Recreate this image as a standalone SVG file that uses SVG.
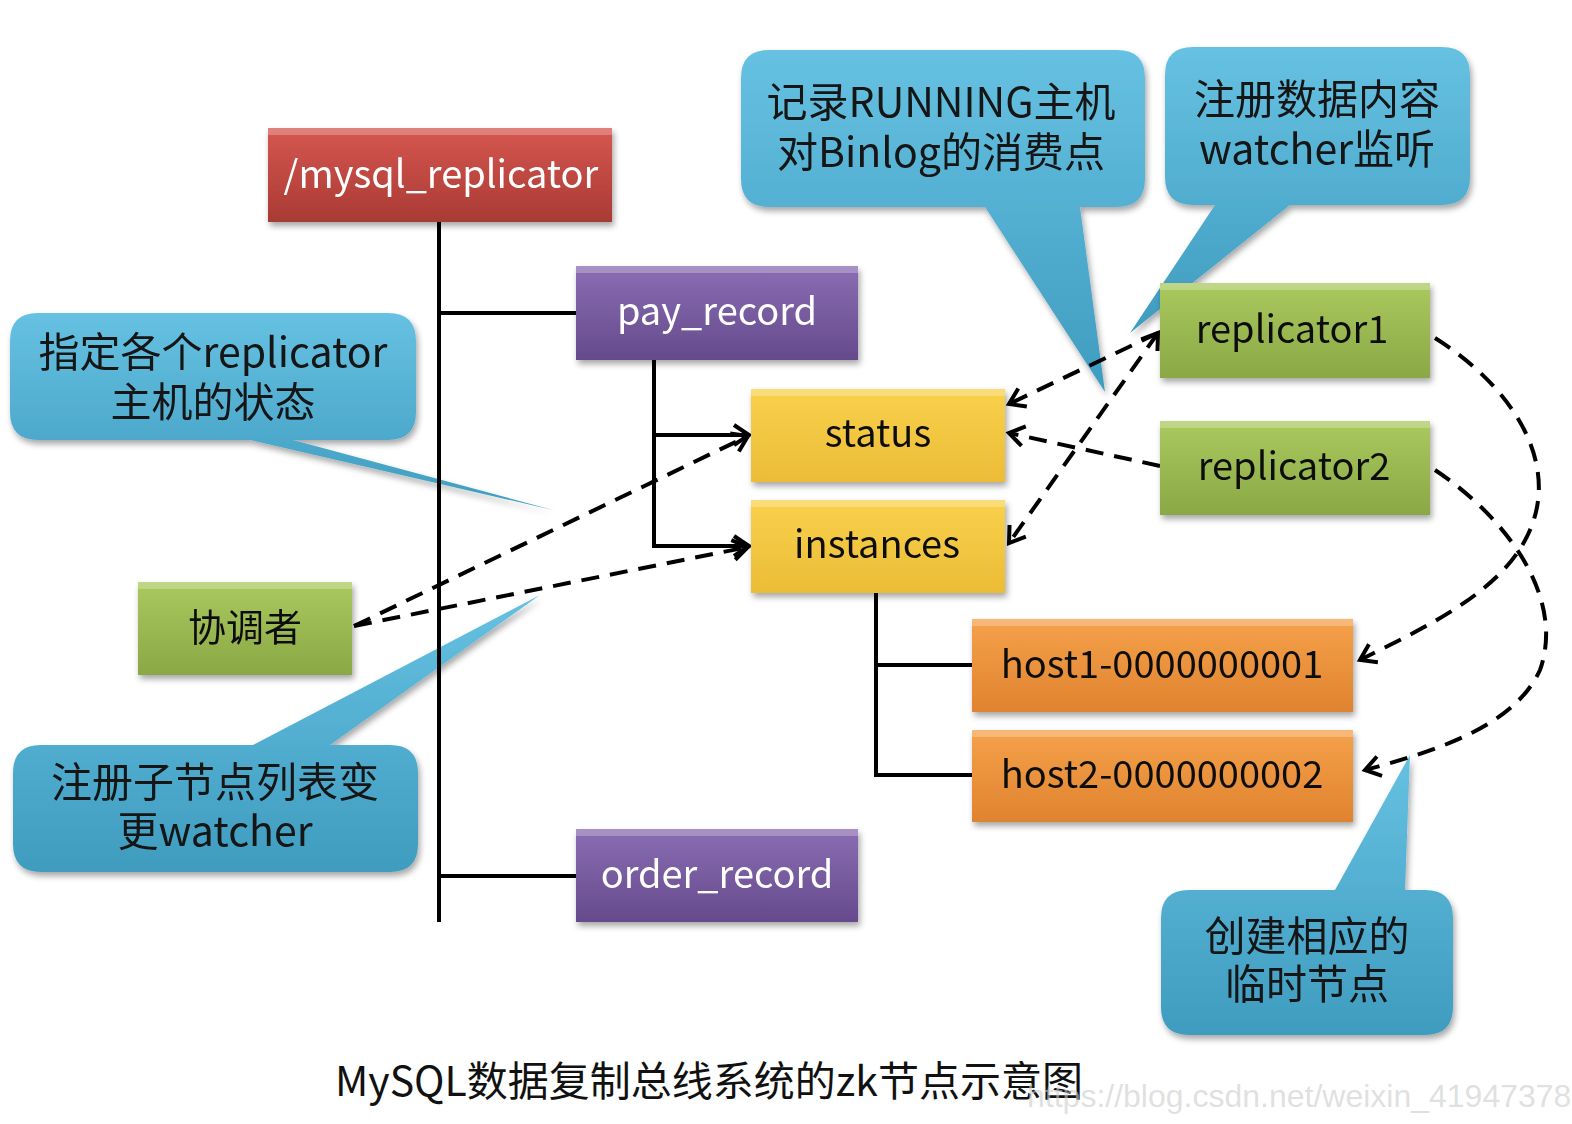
<svg xmlns="http://www.w3.org/2000/svg" width="1572" height="1124" viewBox="0 0 1572 1124">
<defs>
<style>
.lbl{font-family:"Noto Sans CJK SC","Open Sans",sans-serif;font-size:38px;text-anchor:middle}
.w{fill:#ffffff}
.k{fill:#111111}
.cal{font-family:"Noto Sans CJK SC","Open Sans",sans-serif;font-size:41px;text-anchor:middle;fill:#141414}
.solid{fill:none;stroke:#000;stroke-width:4}
.dash{fill:none;stroke:#000;stroke-width:4;stroke-dasharray:18 11}
.hl{fill:#ffffff;opacity:0.25}
</style>
<linearGradient id="gRed" x1="0" y1="0" x2="0" y2="1"><stop offset="0" stop-color="#d65750"/><stop offset="1" stop-color="#a93a34"/></linearGradient>
<linearGradient id="gPur" x1="0" y1="0" x2="0" y2="1"><stop offset="0" stop-color="#8a6db3"/><stop offset="1" stop-color="#654a8c"/></linearGradient>
<linearGradient id="gYel" x1="0" y1="0" x2="0" y2="1"><stop offset="0" stop-color="#f8d14c"/><stop offset="1" stop-color="#ecbc36"/></linearGradient>
<linearGradient id="gGrn" x1="0" y1="0" x2="0" y2="1"><stop offset="0" stop-color="#aac95e"/><stop offset="1" stop-color="#8aa845"/></linearGradient>
<linearGradient id="gOra" x1="0" y1="0" x2="0" y2="1"><stop offset="0" stop-color="#f5a14b"/><stop offset="1" stop-color="#e0832f"/></linearGradient>
<linearGradient id="gBlu" x1="0" y1="0" x2="0" y2="1"><stop offset="0" stop-color="#66c1e2"/><stop offset="1" stop-color="#3f9cbf"/></linearGradient>
<filter id="sh" x="-10%" y="-10%" width="130%" height="140%"><feDropShadow dx="2" dy="4" stdDeviation="3" flood-color="#000" flood-opacity="0.35"/></filter>
<marker id="ah" markerUnits="userSpaceOnUse" markerWidth="30" markerHeight="30" viewBox="-20 -15 30 30" refX="0" refY="0" orient="auto-start-reverse">
<path d="M-15,-10 L0,0 L-15,10" fill="none" stroke="#000" stroke-width="4"/>
</marker>
</defs>
<rect width="1572" height="1124" fill="#ffffff"/>

<g id="callout-running" filter="url(#sh)">
<path d="M769,50 H1117 Q1145,50 1145,78 V179 Q1145,207 1117,207 H1080 L1105,392 L985,207 H769 Q741,207 741,179 V78 Q741,50 769,50 Z" fill="url(#gBlu)"/>
<text class="cal" x="941" y="117">记录RUNNING主机</text>
<text class="cal" x="941" y="167">对Binlog的消费点</text>
</g>
<g id="callout-register" filter="url(#sh)">
<path d="M1193,47 H1442 Q1470,47 1470,75 V177 Q1470,205 1442,205 H1290 L1130,333 L1215,205 H1193 Q1165,205 1165,177 V75 Q1165,47 1193,47 Z" fill="url(#gBlu)"/>
<text class="cal" x="1317" y="114">注册数据内容</text>
<text class="cal" x="1317" y="164">watcher监听</text>
</g>
<g id="callout-status" filter="url(#sh)">
<path d="M38,313 H388 Q416,313 416,341 V412 Q416,440 388,440 H293 L553,510 L250,440 H38 Q10,440 10,412 V341 Q10,313 38,313 Z" fill="url(#gBlu)"/>
<text class="cal" x="213" y="367">指定各个replicator</text>
<text class="cal" x="213" y="417">主机的状态</text>
</g>
<g id="callout-children" filter="url(#sh)">
<path d="M41,745 H253 L540,595 L330,745 H390 Q418,745 418,773 V844 Q418,872 390,872 H41 Q13,872 13,844 V773 Q13,745 41,745 Z" fill="url(#gBlu)"/>
<text class="cal" x="215" y="797">注册子节点列表变</text>
<text class="cal" x="215" y="846">更watcher</text>
</g>
<g id="callout-ephemeral" filter="url(#sh)">
<path d="M1189,890 H1335 L1410,755 L1405,890 H1425 Q1453,890 1453,918 V1007 Q1453,1035 1425,1035 H1189 Q1161,1035 1161,1007 V918 Q1161,890 1189,890 Z" fill="url(#gBlu)"/>
<text class="cal" x="1307" y="951">创建相应的</text>
<text class="cal" x="1307" y="999">临时节点</text>
</g>

<g id="connectors">
<path class="solid" d="M439,222 V922"/>
<path class="solid" d="M439,313 H576"/>
<path class="solid" d="M439,876 H576"/>
<path class="solid" d="M654,360 V546"/>
<path class="solid" d="M652,435 H749" marker-end="url(#ah)"/>
<path class="solid" d="M652,546 H749" marker-end="url(#ah)"/>
<path class="solid" d="M876,593 V775"/>
<path class="solid" d="M874,665 H972"/>
<path class="solid" d="M874,775 H972"/>
<path class="dash" d="M354,626 L748,436" marker-end="url(#ah)"/>
<path class="dash" d="M354,626 L748,547" marker-end="url(#ah)"/>
<path class="dash" d="M1158,333 L1009,404" marker-end="url(#ah)"/>
<path class="dash" d="M1158,333 L1009,543" marker-start="url(#ah)" marker-end="url(#ah)"/>
<path class="dash" d="M1160,466 L1009,433" marker-end="url(#ah)"/>
<path class="dash" d="M1435,338 C1510,385 1560,460 1530,530 C1505,590 1430,625 1360,660" marker-end="url(#ah)"/>
<path class="dash" d="M1435,470 C1510,520 1565,600 1540,670 C1515,725 1440,750 1365,770" marker-end="url(#ah)"/>
</g>

<g id="node-root" filter="url(#sh)">
<rect x="268" y="128" width="344" height="94" fill="url(#gRed)"/>
<rect class="hl" x="268" y="128" width="344" height="7"/>
<text class="lbl w" x="441" y="188">/mysql_replicator</text>
</g>
<g id="node-pay" filter="url(#sh)">
<rect x="576" y="266" width="282" height="94" fill="url(#gPur)"/>
<rect class="hl" x="576" y="266" width="282" height="7"/>
<text class="lbl w" x="717" y="325">pay_record</text>
</g>
<g id="node-status" filter="url(#sh)">
<rect x="751" y="389" width="254" height="93" fill="url(#gYel)"/>
<rect class="hl" x="751" y="389" width="254" height="7"/>
<text class="lbl k" x="878" y="447">status</text>
</g>
<g id="node-instances" filter="url(#sh)">
<rect x="751" y="500" width="254" height="93" fill="url(#gYel)"/>
<rect class="hl" x="751" y="500" width="254" height="7"/>
<text class="lbl k" x="877" y="558">instances</text>
</g>
<g id="node-replicator1" filter="url(#sh)">
<rect x="1160" y="283" width="270" height="95" fill="url(#gGrn)"/>
<rect class="hl" x="1160" y="283" width="270" height="7"/>
<text class="lbl k" x="1292" y="343">replicator1</text>
</g>
<g id="node-replicator2" filter="url(#sh)">
<rect x="1160" y="421" width="270" height="94" fill="url(#gGrn)"/>
<rect class="hl" x="1160" y="421" width="270" height="7"/>
<text class="lbl k" x="1294" y="480">replicator2</text>
</g>
<g id="node-coordinator" filter="url(#sh)">
<rect x="138" y="582" width="214" height="93" fill="url(#gGrn)"/>
<rect class="hl" x="138" y="582" width="214" height="7"/>
<text class="lbl k" x="245" y="641">协调者</text>
</g>
<g id="node-host1" filter="url(#sh)">
<rect x="972" y="619" width="381" height="93" fill="url(#gOra)"/>
<rect class="hl" x="972" y="619" width="381" height="7"/>
<text class="lbl k" x="1162" y="678">host1-0000000001</text>
</g>
<g id="node-host2" filter="url(#sh)">
<rect x="972" y="730" width="381" height="92" fill="url(#gOra)"/>
<rect class="hl" x="972" y="730" width="381" height="7"/>
<text class="lbl k" x="1162" y="788">host2-0000000002</text>
</g>
<g id="node-order" filter="url(#sh)">
<rect x="576" y="829" width="282" height="93" fill="url(#gPur)"/>
<rect class="hl" x="576" y="829" width="282" height="7"/>
<text class="lbl w" x="717" y="888">order_record</text>
</g>

<text x="335" y="1096" font-family="Noto Sans CJK SC, Open Sans, sans-serif" font-size="41" fill="#111">MySQL数据复制总线系统的zk节点示意图</text>
<text x="1027" y="1107" font-family="Liberation Sans, Arial, sans-serif" font-size="32" fill="#cccccc" fill-opacity="0.6">https://blog.csdn.net/weixin_41947378</text>
</svg>
